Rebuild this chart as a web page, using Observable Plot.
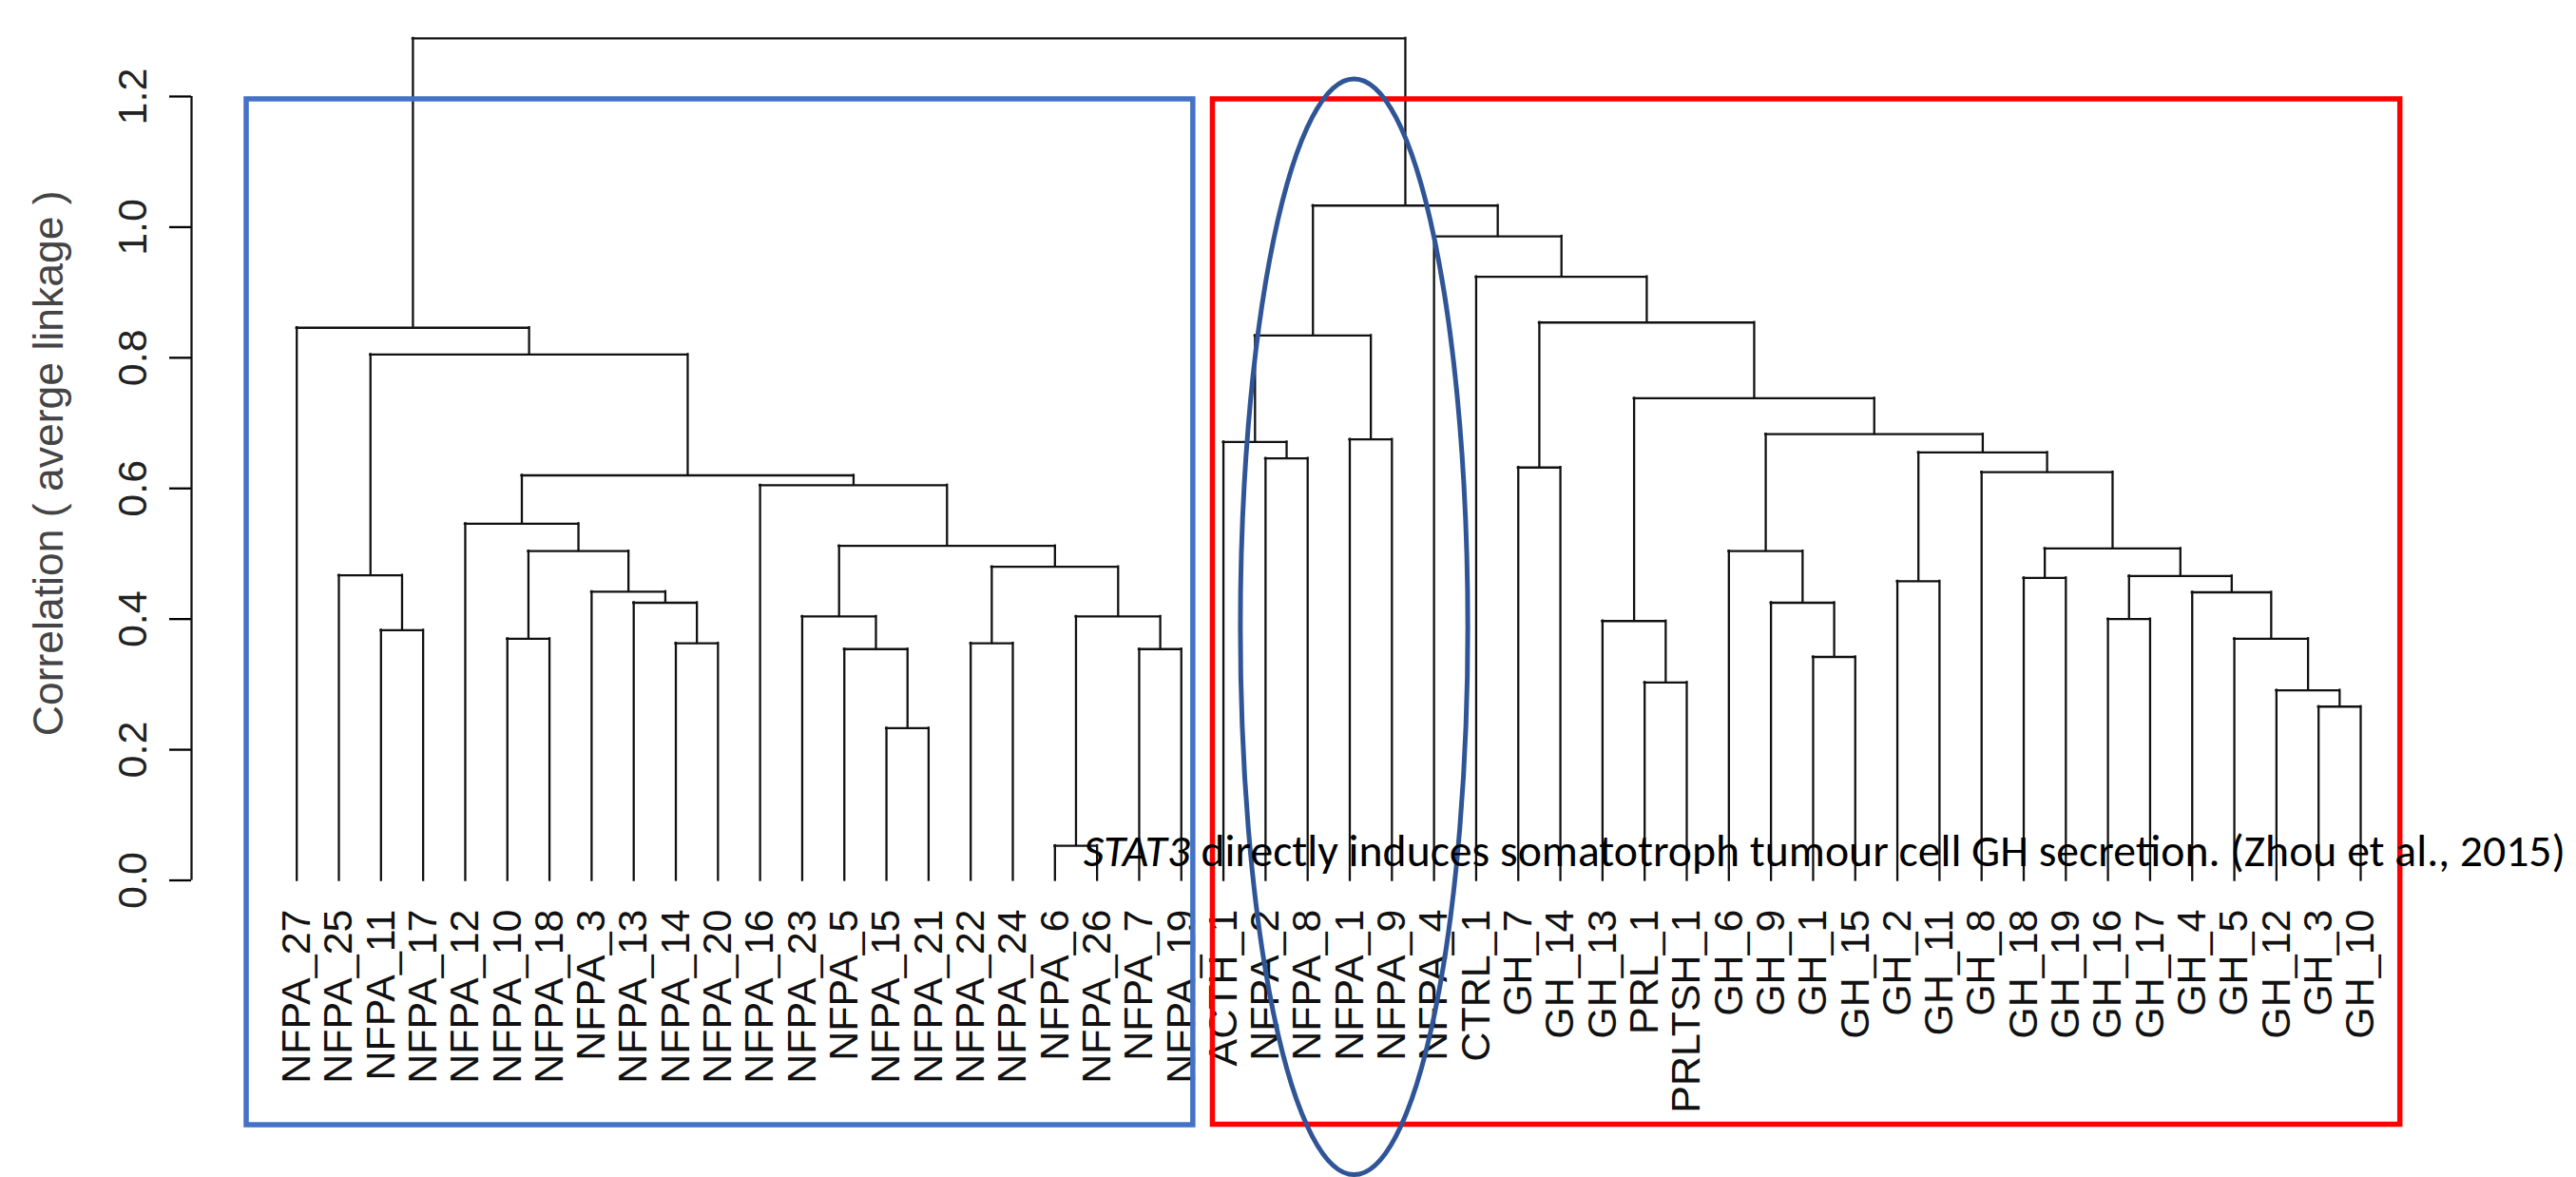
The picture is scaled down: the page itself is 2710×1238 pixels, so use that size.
<!DOCTYPE html>
<html><head><meta charset="utf-8">
<script src="https://cdn.jsdelivr.net/npm/d3@7"></script>
<script src="https://cdn.jsdelivr.net/npm/@observablehq/plot@0.6"></script>
<style>
html,body{margin:0;padding:0;background:#fff;}
#chart{width:2710px;height:1238px;overflow:hidden;}
</style></head><body><div id="chart"></div>
<script>
// ---- data ----
const leafLabels = [
  "NFPA_27","NFPA_25","NFPA_11","NFPA_17","NFPA_12","NFPA_10","NFPA_18","NFPA_3","NFPA_13","NFPA_14","NFPA_20",
  "NFPA_16","NFPA_23","NFPA_5","NFPA_15","NFPA_21","NFPA_22","NFPA_24","NFPA_6","NFPA_26","NFPA_7","NFPA_19",
  "ACTH_1","NFPA_2","NFPA_8","NFPA_1","NFPA_9","NFPA_4","CTRL_1","GH_7","GH_14","GH_13","PRL_1","PRLTSH_1",
  "GH_6","GH_9","GH_1","GH_15","GH_2","GH_11","GH_8","GH_18","GH_19","GH_16","GH_17","GH_4","GH_5","GH_12","GH_3","GH_10"
];
// merge steps: [child A, child B, height]; a string is a leaf, a number refers to an earlier merge step
const merges = [
  ["NFPA_6","NFPA_26",0.053],   // 0
  ["NFPA_15","NFPA_21",0.233],  // 1
  ["NFPA_5",1,0.354],           // 2
  ["NFPA_7","NFPA_19",0.354],   // 3
  ["NFPA_14","NFPA_20",0.363],  // 4
  ["NFPA_22","NFPA_24",0.363],  // 5
  ["NFPA_10","NFPA_18",0.370],  // 6
  ["NFPA_11","NFPA_17",0.383],  // 7
  [0,3,0.404],                  // 8
  ["NFPA_23",2,0.404],          // 9
  ["NFPA_13",4,0.425],          // 10
  ["NFPA_3",10,0.442],          // 11
  ["NFPA_25",7,0.467],          // 12
  [5,8,0.480],                  // 13
  [6,11,0.504],                 // 14
  [9,13,0.512],                 // 15
  ["NFPA_12",14,0.546],         // 16
  ["NFPA_16",15,0.605],         // 17
  [16,17,0.620],                // 18
  [12,18,0.805],                // 19
  ["NFPA_27",19,0.846],         // 20
  ["GH_3","GH_10",0.266],       // 21
  ["GH_12",21,0.291],           // 22
  ["PRL_1","PRLTSH_1",0.303],   // 23
  ["GH_1","GH_15",0.342],       // 24
  ["GH_5",22,0.370],            // 25
  ["GH_13",23,0.397],           // 26
  ["GH_16","GH_17",0.400],      // 27
  ["GH_9",24,0.425],            // 28
  ["GH_4",25,0.441],            // 29
  ["GH_2","GH_11",0.458],       // 30
  ["GH_18","GH_19",0.463],      // 31
  [27,29,0.466],                // 32
  ["GH_6",28,0.504],            // 33
  [31,32,0.508],                // 34
  ["GH_8",34,0.625],            // 35
  ["GH_7","GH_14",0.632],       // 36
  ["NFPA_2","NFPA_8",0.646],    // 37
  [30,35,0.655],                // 38
  ["ACTH_1",37,0.671],          // 39
  ["NFPA_1","NFPA_9",0.675],    // 40
  [33,38,0.683],                // 41
  [26,41,0.738],                // 42
  [39,40,0.834],                // 43
  [36,42,0.854],                // 44
  ["CTRL_1",44,0.924],          // 45
  ["NFPA_4",45,0.986],          // 46
  [43,46,1.033],                // 47
  [20,47,1.289]                 // 48
];
const yTicks = [0, 0.2, 0.4, 0.6, 0.8, 1.0, 1.2];
const yTitle = "Correlation ( averge linkage )";
const groupBoxes = [
  {first: "NFPA_27", last: "NFPA_19", color: "#4472C4"},
  {first: "ACTH_1", last: "GH_10", color: "#FF0000"}
];
const circled = ["NFPA_2","NFPA_8","NFPA_1","NFPA_9","NFPA_4"];
const noteItalic = "STAT3";
const noteText = "directly induces somatotroph tumour cell GH secretion. (Zhou et al., 2015)";

// ---- build dendrogram segments ----
const idx = new Map(leafLabels.map((d, i) => [d, i]));
const nodes = [], hSegs = [], vSegs = [];
const pos = r => typeof r === "number" ? nodes[r] : {x: idx.get(r), h: 0};
merges.forEach(([a, b, h]) => {
  const A = pos(a), B = pos(b);
  nodes.push({x: (A.x + B.x) / 2, h});
  hSegs.push({x1: A.x, x2: B.x, y: h});
  vSegs.push({x: A.x, y1: A.h, y2: h}, {x: B.x, y1: B.h, y2: h});
});
const leaves = leafLabels.map((name, i) => ({name, i}));
const boxes = groupBoxes.map(g => ({...g, x1: idx.get(g.first), x2: idx.get(g.last)}));
const split = (idx.get(groupBoxes[0].last) + idx.get(groupBoxes[1].first)) / 2;

const AXIS_GAP = 110.7;
const font = "'Liberation Sans', Arial, Helvetica, sans-serif";
const noteFont = "Carlito, Calibri, Lato, sans-serif";

function ellipseMark(index, scales, values, dims) {
  const xs = circled.map(n => scales.x(idx.get(n)));
  const x0 = Math.min(...xs), x1 = Math.max(...xs);
  const top = dims.marginTop - 18, bottom = dims.height - 2.5;
  const g = d3.create("svg:g");
  g.append("ellipse")
    .attr("cx", (x0 + x1) / 2 + 5).attr("rx", (x1 - x0) / 2 + 31)
    .attr("cy", (top + bottom) / 2).attr("ry", (bottom - top) / 2)
    .attr("fill", "none").attr("stroke", "#2F5597").attr("stroke-width", 5);
  return g.node();
}

const chart = Plot.plot({
  width: 2710, height: 1238,
  marginLeft: 201, marginRight: 227, marginTop: 101, marginBottom: 312.5,
  style: {fontFamily: font, background: "white", overflow: "visible"},
  x: {type: "linear", domain: [0, leafLabels.length - 1], insetLeft: AXIS_GAP, axis: null},
  y: {domain: [0, 1.2], axis: null},
  marks: [
    Plot.ruleX(vSegs, {x: "x", y1: "y1", y2: "y2", stroke: "#111", strokeWidth: 2.3, strokeLinecap: "square"}),
    Plot.ruleY(hSegs, {x1: "x1", x2: "x2", y: "y", stroke: "#111", strokeWidth: 2.3, strokeLinecap: "square"}),
    Plot.axisY({ticks: yTicks, tickSize: 23, tickPadding: 38, tickRotate: -90, textAnchor: "middle", lineAnchor: "middle",
      fontSize: 43, tickFormat: d => d.toFixed(1), label: null, strokeWidth: 2.3, fill: "#222"}),
    Plot.ruleX([0], {y1: yTicks[0], y2: yTicks[yTicks.length - 1], dx: -AXIS_GAP, stroke: "#111", strokeWidth: 2.3}),
    Plot.text([yTitle], {frameAnchor: "left", rotate: -90, dx: -150, dy: -26.5, fontSize: 44.5, fill: "#444", textAnchor: "middle", lineAnchor: "middle"}),
    Plot.text(leaves, {x: "i", y: () => 0, text: "name", rotate: -90, textAnchor: "end", lineAnchor: "middle",
      dy: 30.5, fontSize: 43, fill: "#111"}),
    Plot.rect(boxes.slice(0, 1), {x1: "x1", x2: "x2", fill: "none", stroke: "color", strokeWidth: 5.5,
      insetLeft: -52.7, insetRight: -12.6, insetTop: 3, insetBottom: -257.5}),
    Plot.rect(boxes.slice(1, 2), {x1: "x1", x2: "x2", fill: "none", stroke: "color", strokeWidth: 5.5,
      insetLeft: -11.1, insetRight: -41.7, insetTop: 3, insetBottom: -257}),
    ellipseMark,
    Plot.text([noteItalic], {x: () => split, y: () => 0, text: d => d, textAnchor: "end", lineAnchor: "bottom",
      dx: -13, dy: -15.5, fontSize: 47.7, fontStyle: "italic", fontFamily: noteFont, fill: "#000"}),
    Plot.text([noteText], {x: () => split, y: () => 0, text: d => d, textAnchor: "start", lineAnchor: "bottom",
      dx: -1.5, dy: -15.5, fontSize: 47.7, fontFamily: noteFont, fill: "#000"})
  ]
});
document.getElementById("chart").appendChild(chart);
</script>
</body></html>
